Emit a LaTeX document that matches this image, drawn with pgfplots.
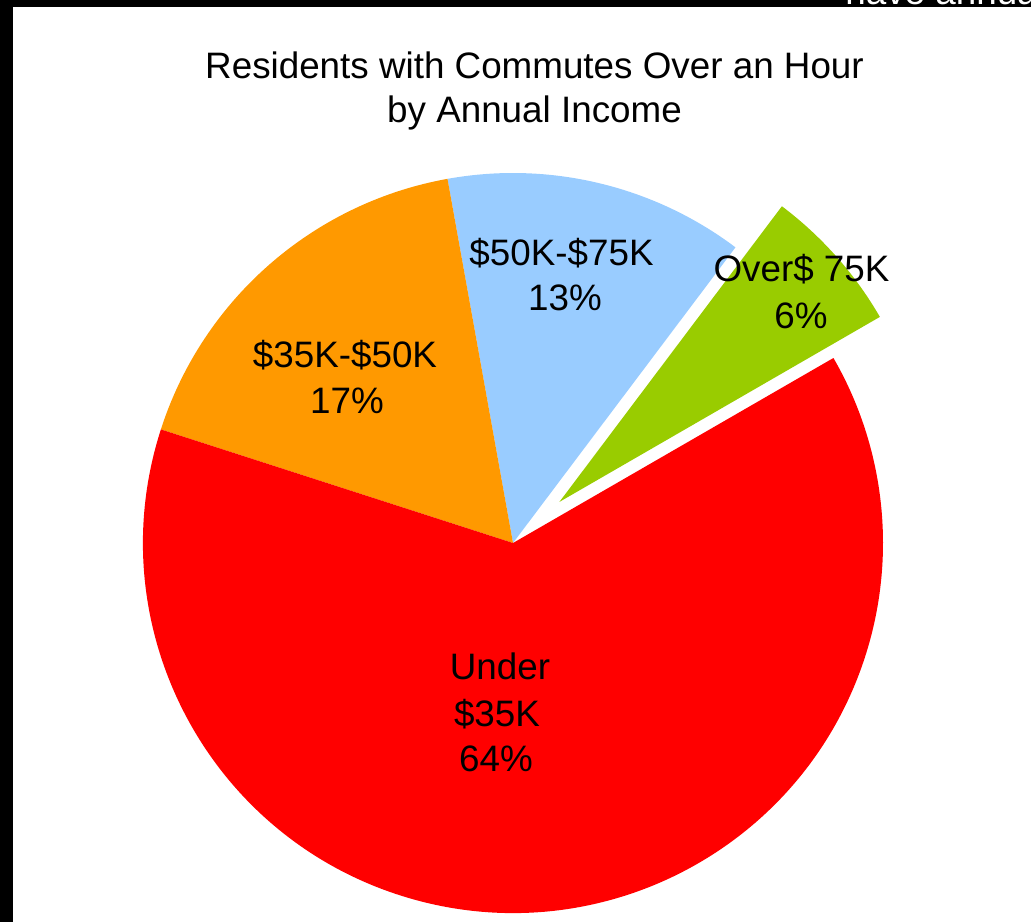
\documentclass[border=0pt]{standalone}
\usepackage{pgfplots}
\usepackage{pgfplotstable}
\usepackage{fontspec}
\setmainfont{Liberation Sans}
\pgfplotsset{compat=1.18}

\definecolor{sliceRed}{RGB}{255,0,0}
\definecolor{sliceOrange}{RGB}{255,153,0}
\definecolor{sliceBlue}{RGB}{153,204,255}
\definecolor{sliceGreen}{RGB}{153,204,0}

\tikzset{lbl/.style={font=\fontsize{18.4}{22}\selectfont, anchor=base, inner sep=0pt}}

% shares in percent, counter-clockwise from the exploded slice
\pgfplotstableread{
slice   value
Over75  6.4
50to75  13.1
35to50  17.2
Under35 63.3
}\piedata

\begin{document}
\begin{tikzpicture}
% slice angles from the table
\pgfmathsetmacro\angA{30}
\pgfplotstablegetelem{0}{value}\of\piedata
\pgfmathsetmacro\angB{\angA+3.6*\pgfplotsretval}
\pgfplotstablegetelem{1}{value}\of\piedata
\pgfmathsetmacro\angC{\angB+3.6*\pgfplotsretval}
\pgfplotstablegetelem{2}{value}\of\piedata
\pgfmathsetmacro\angD{\angC+3.6*\pgfplotsretval}
\pgfplotstablegetelem{3}{value}\of\piedata
\pgfmathsetmacro\angE{\angD+3.6*\pgfplotsretval}
\pgfmathsetmacro\angMid{(\angA+\angB)/2}
\pgfmathsetmacro\exX{513+62*cos(\angMid)}
\pgfmathsetmacro\exY{379+62*sin(\angMid)}

\begin{axis}[
    width=515.5pt, height=461pt,
    scale only axis,
    xmin=0, xmax=1031,
    ymin=0, ymax=922,
    hide axis,
    clip=false,
]
% frame bands
\fill[black] (axis cs:0,0) rectangle (axis cs:13,922);
\fill[black] (axis cs:0,915) rectangle (axis cs:1031,922);

% slices (radius 370 units = 185pt)
\fill[sliceBlue] (axis cs:513,379) -- ([shift={(\angB:185pt)}]axis cs:513,379)
    arc[start angle=\angB, end angle=\angC, radius=185pt] -- cycle;
\fill[sliceOrange] (axis cs:513,379) -- ([shift={(\angC:185pt)}]axis cs:513,379)
    arc[start angle=\angC, end angle=\angD, radius=185pt] -- cycle;
\fill[sliceRed] (axis cs:513,379) -- ([shift={(\angD:185pt)}]axis cs:513,379)
    arc[start angle=\angD, end angle=\angE, radius=185pt] -- cycle;
\fill[sliceGreen] (axis cs:\exX,\exY) -- ([shift={(\angA:185pt)}]axis cs:\exX,\exY)
    arc[start angle=\angA, end angle=\angB, radius=185pt] -- cycle;

% text
\node[lbl] at (axis cs:534.5,843) {Residents with Commutes Over an Hour};
\node[lbl] at (axis cs:534.5,799) {by Annual Income};
\node[lbl] at (axis cs:345,555) {\$35K-\$50K};
\node[lbl] at (axis cs:347,509) {17\%};
\node[lbl] at (axis cs:561.5,656) {\$50K-\$75K};
\node[lbl] at (axis cs:565,611) {13\%};
\node[lbl] at (axis cs:801.5,640.3) {Over\$ 75K};
\node[lbl] at (axis cs:801,594) {6\%};
\node[lbl] at (axis cs:500,243) {Under};
\node[lbl] at (axis cs:497,195.3) {\$35K};
\node[lbl] at (axis cs:496,150.3) {64\%};
\node[lbl, anchor=base west, text=white] at (axis cs:845,917) {have annual};

\coordinate (ll) at (axis cs:0,0);
\coordinate (ur) at (axis cs:1031,922);
\end{axis}
\pgfresetboundingbox
\useasboundingbox (ll) rectangle (ur);
\end{tikzpicture}
\end{document}
